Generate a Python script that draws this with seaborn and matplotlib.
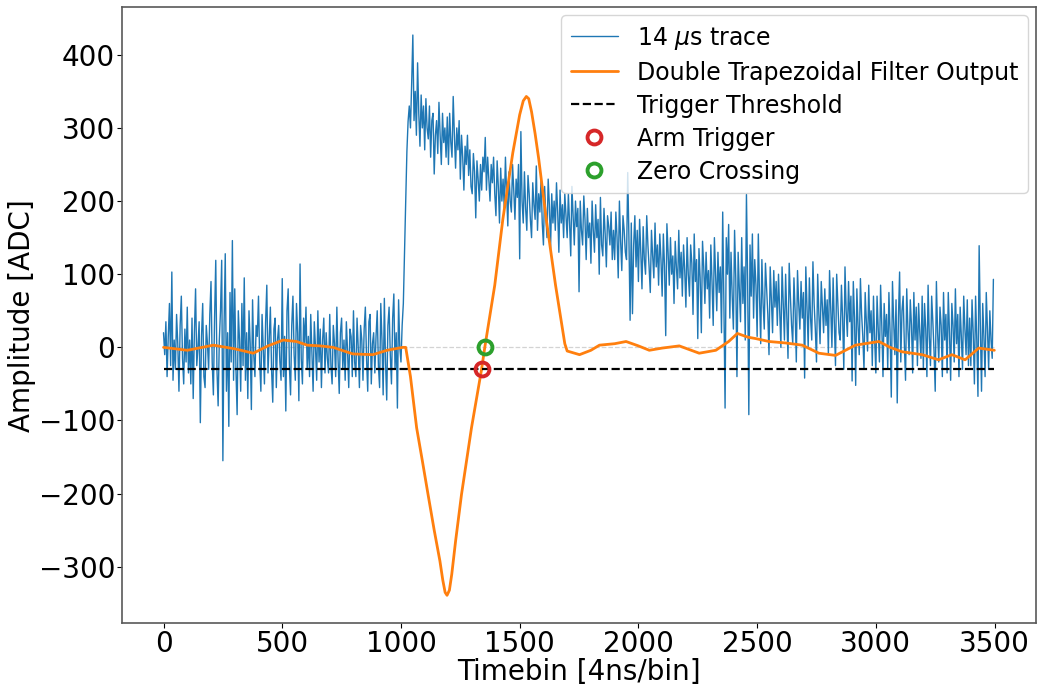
import numpy as np
import pandas as pd
import matplotlib
matplotlib.use("Agg")
import matplotlib.pyplot as plt
import seaborn as sns

# ---------------- data ----------------
TRACE_STEP = 5  # timebins between stored trace samples
trace_adc = [
    20, -10, 35, -40, 15, 60, -25, 103, -45, 10,
    -30, 45, 5, -60, 30, 70, -15, -50, 25, -20,
    55, -35, 10, -50, 40, -70, 20, 80, -25, 0,
    35, -103, 15, 60, -40, -55, 30, 5, -30, 45,
    90, -20, -65, 40, 119, -30, -80, 10, 50, 119,
    -155, 30, 128, -60, 20, -108, 75, -20, 146, -45,
    80, -30, -92, 50, 10, -60, 60, -25, 95, -45,
    20, -70, 50, 5, -85, 65, -10, -40, 30, 15,
    70, -20, -60, 45, 0, -50, 35, 85, -35, 10,
    55, -30, -75, 25, 40, -55, 10, 30, -20, -45,
    94, -40, 15, -87, 50, 80, -25, -65, 30, 70,
    -10, -45, 60, 20, -73, 114, -15, -50, 40, 5,
    55, -30, 15, -40, 45, -10, -60, 35, 0, -45,
    50, -20, 25, -55, 10, 40, -35, 20, -15, -35,
    45, -25, -50, 30, 5, -40, 55, -15, -63, 20,
    40, -30, 10, -45, 35, -5, -55, 25, 15, -40,
    50, -20, -40, 40, 0, -55, 30, 10, -45, 25,
    55, -15, -60, 35, 45, -50, 5, 20, -35, 15,
    50, -25, -55, 60, 10, -65, 67, -20, -72, 30,
    55, -10, -50, 40, 73, -30, 20, -83, 65, 0,
    -20, 30, 60, 132, 200, 268, 309, 330, 300, 360,
    427, 310, 350, 290, 389, 320, 275, 345, 300, 330,
    270, 340, 300, 285, 330, 260, 310, 320, 237, 290,
    310, 265, 335, 290, 250, 320, 280, 300, 260, 315,
    250, 320, 280, 260, 343, 290, 245, 300, 270, 310,
    230, 290, 260, 215, 275, 250, 290, 235, 270, 220,
    210, 265, 240, 177, 255, 230, 200, 250, 215, 260,
    240, 287, 215, 260, 230, 200, 250, 225, 260, 210,
    180, 255, 220, 170, 245, 200, 230, 190, 260, 210,
    166, 240, 200, 185, 250, 215, 175, 230, 205, 250,
    121, 295, 200, 170, 240, 190, 160, 235, 210, 175,
    150, 225, 195, 175, 248, 160, 210, 185, 230, 170,
    140, 220, 180, 150, 230, 195, 135, 210, 170, 200,
    160, 225, 185, 130, 215, 170, 195, 150, 210, 180,
    150, 210, 170, 125, 220, 180, 140, 200, 165, 190,
    76, 200, 160, 140, 207, 175, 120, 190, 150, 170,
    115, 200, 160, 130, 195, 150, 175, 100, 205, 140,
    125, 190, 155, 110, 180, 165, 140, 185, 120, 160,
    120, 185, 150, 95, 200, 145, 105, 180, 160, 130,
    120, 239, 150, 37, 170, 46, 140, 180, 110, 160,
    90, 175, 130, 80, 165, 120, 100, 180, 140, 110,
    75, 160, 125, 95, 170, 110, 140, 85, 155, 120,
    70, 155, 110, 16, 169, 130, 85, 150, 100, 125,
    60, 145, 110, 80, 160, 95, 130, 70, 140, 105,
    55, 150, 100, 70, 140, 115, 45, 155, 90, 120,
    12, 135, 95, 20, 145, 110, 60, 130, 80, 105,
    40, 140, 90, 30, 150, 100, 50, 130, 75, 110,
    20, 185, 60, -83, 150, 100, 168, 40, 130, 70,
    25, 160, 95, -40, 130, 80, 35, 150, 60, 110,
    10, 209, 90, -92, 140, 70, 155, 40, 120, 85,
    15, 155, 70, 5, 120, 60, 25, 115, 80, 45,
    -10, 110, 65, 20, 105, 55, 90, 30, 100, 50,
    0, 110, 60, 10, 100, 45, -15, 115, 70, 30,
    5, 95, 50, -20, 105, 60, 25, 90, 40, 75,
    -42, 110, 55, 0, 95, 40, 10, 117, 60, 25,
    -20, 100, 45, 5, 90, 55, 20, 80, 30, 65,
    -10, 105, 50, 0, 95, 35, -25, 100, 60, 20,
    10, 85, 40, -30, 110, 50, 15, 90, 35, 70,
    -46, 90, 40, -52, 80, 30, -10, 94, 45, 15,
    -30, 75, 35, -5, 85, 20, 50, -25, 70, 10,
    -35, 70, 25, -20, 85, 30, -40, 60, 15, 45,
    -30, 75, 20, -68, 90, 35, -10, 65, -76, 40,
    103, -20, 50, 70, 5, -45, 80, 25, -10, 65,
    30, -35, 75, 10, 55, -25, 60, 20, -15, 70,
    -30, 60, 25, -40, 85, 15, -25, 70, 35, -5,
    -60, 90, 20, -20, 55, 30, -40, 75, 10, 45,
    -35, 75, 20, -45, 60, 30, -20, 80, 5, 45,
    -40, 55, 15, -30, 70, 25, -10, 65, -25, 40,
    -25, 65, 20, -50, 70, 10, -67, 139, 30, -60,
    60, 15, -40, 75, 25, -30, 50, 10, -15, 93,
]

filter_bins = [0, 100, 210, 300, 378, 440, 504, 560, 605, 660, 714, 760, 798,
               882, 941, 1008, 1020, 1040, 1066, 1090, 1114, 1140, 1164, 1176,
               1186, 1194, 1204, 1214, 1230, 1255, 1297, 1339, 1353, 1395, 1429,
               1471, 1500, 1515, 1528, 1538, 1550, 1565, 1580, 1612, 1651, 1690,
               1700, 1752, 1800, 1836, 1900,
               1948, 2000, 2046, 2100, 2172, 2256, 2326, 2380, 2417, 2460, 2494,
               2550, 2620, 2690, 2760, 2830, 2914, 3013, 3060, 3110, 3195, 3264,
               3320, 3376, 3433, 3499]
filter_adc = [0, -4, 3, -2, -8, 2, 10, 8, 3, 2, 0, -5, -9,
              -10, -4, 0, 0, -40, -110, -155, -201, -250, -292, -318,
              -335, -339, -332, -310, -265, -201, -110, -31, 0, 85, 175,
              266, 318, 337, 343, 340, 322, 292, 258, 175, 85, 5,
              -5, -10, -4, 3, 5,
              8, 2, -4, -1, 2, -8, -4, 8, 19, 14, 12,
              8, 6, 3, -8, -11, 3, 8, 0, -6, -10, -17,
              -10, -17, -1, -4]

trigger_threshold = -30
arm_trigger_bin = 1340
zero_crossing_bin = 1353

# ---------------- figure ----------------
sns.set_style("ticks")
plt.rcParams["font.family"] = ["DejaVu Sans"]
plt.rcParams["text.color"] = "black"
plt.rcParams["axes.labelcolor"] = "black"
plt.rcParams["xtick.color"] = "black"
plt.rcParams["ytick.color"] = "black"

fig, ax = plt.subplots(figsize=(10.39, 6.88), dpi=100)
fig.subplots_adjust(left=0.1174, right=0.997, top=0.9898, bottom=0.094)

trace_bins = np.arange(len(trace_adc)) * TRACE_STEP
trace_df = pd.DataFrame({"t": trace_bins, "adc": trace_adc})
filt_df = pd.DataFrame({"t": filter_bins, "adc": filter_adc})

t0, t1 = filter_bins[0], filter_bins[-1]

ax.hlines(0, t0, t1, colors="lightgrey", linestyles="--", linewidth=0.9, zorder=1)

sns.lineplot(data=trace_df, x="t", y="adc", ax=ax, color="#1f77b4",
             linewidth=1.0, label=r"14 $\mu$s trace", estimator=None, zorder=2)
sns.lineplot(data=filt_df, x="t", y="adc", ax=ax, color="#ff7f0e",
             linewidth=2.0, label="Double Trapezoidal Filter Output",
             estimator=None, zorder=3)
ax.hlines(trigger_threshold, t0, t1, colors="black", linestyles="--",
          linewidth=1.6, label="Trigger Threshold", zorder=4)
ax.plot([arm_trigger_bin], [trigger_threshold], "o", mfc="none", mec="#d62728",
        mew=2.8, ms=10, linestyle="none", label="Arm Trigger", zorder=5)
ax.plot([zero_crossing_bin], [0], "o", mfc="none", mec="#2ca02c",
        mew=2.8, ms=10, linestyle="none", label="Zero Crossing", zorder=5)

ax.set_xlabel("Timebin [4ns/bin]", fontsize=20, labelpad=0)
ax.set_ylabel("Amplitude [ADC]", fontsize=20, labelpad=2)
ax.tick_params(labelsize=20, length=3.5, pad=1.5)
ax.set_xticks([0, 500, 1000, 1500, 2000, 2500, 3000, 3500])
ax.set_yticks([-300, -200, -100, 0, 100, 200, 300, 400])
for s in ax.spines.values():
    s.set_visible(True)
    s.set_color("0.35")
    s.set_linewidth(1.2)

leg = ax.legend(loc="upper right", fontsize=17, framealpha=0.8,
                borderaxespad=0.35, handlelength=2.0, labelspacing=0.38)
leg.get_frame().set_edgecolor("0.8")

fig.savefig("out.png", dpi=100)
